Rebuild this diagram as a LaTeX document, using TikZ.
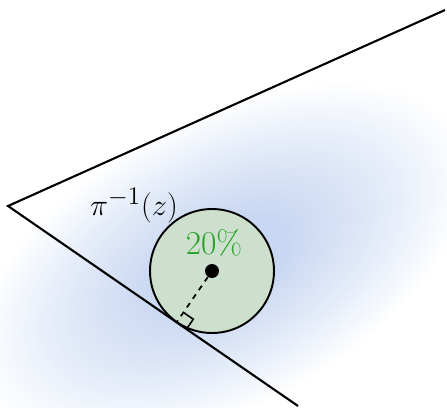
\documentclass[tikz,border=0pt]{standalone}
\usetikzlibrary{calc}
\definecolor{blobblue}{RGB}{192,209,240}
\definecolor{diskgreen}{RGB}{205,224,205}
\definecolor{pctgreen}{RGB}{40,160,40}
\pgfdeclareradialshading{blob}{\pgfpointorigin}{color(0bp)=(blobblue); color(7bp)=(blobblue!85!white); color(17bp)=(blobblue!40!white); color(25bp)=(white); color(50bp)=(white)}

\begin{document}
\begin{tikzpicture}[x=0.02cm, y=-0.02cm,
    edge/.style={line width=1.2pt, black},
    disk/.style={circle, draw, line width=1.1pt, fill=diskgreen,
                 minimum size=2.48cm, inner sep=0pt},
    dot/.style={circle, fill=black, minimum size=0.28cm, inner sep=0pt},
    lbl/.style={font=\fontsize{19}{22}\selectfont}
]
    \useasboundingbox (0,0) rectangle (447,407);

    % Soft blue background
    \begin{scope}[transform canvas={rotate around={28:(222,262)}}]
        \shade[shading=blob] (222,262) ellipse [x radius=270, y radius=145];
    \end{scope}

    % Wedge
    \coordinate (apex) at (8,206);
    \coordinate (top) at (445,10);
    \coordinate (bot) at (298,406);
    \draw[edge] (top) -- (apex) -- (bot);

    % Disk and centre
    \node[disk] (ball) at (212,271) {};
    \node[dot] (ctr) at (ball.center) {};
    \coordinate (foot) at ($(apex)!(ctr)!(bot)$);
    \draw[line width=1pt, dashed] (ctr) -- (foot);

    % Right angle mark
    \coordinate (ra1) at ($(foot)!0.24cm!(bot)$);
    \coordinate (ra2) at ($(foot)!0.24cm!(ctr)$);
    \draw[line width=0.9pt] (ra1) -- ($(ra1)+(ra2)-(foot)$) -- (ra2);

    % Labels
    \node[lbl] (pre) at (134,206) {$\pi^{-1}(z)$};
    \node[lbl, text=pctgreen] (pct) at (214,243) {20\%};

\end{tikzpicture}
\end{document}
